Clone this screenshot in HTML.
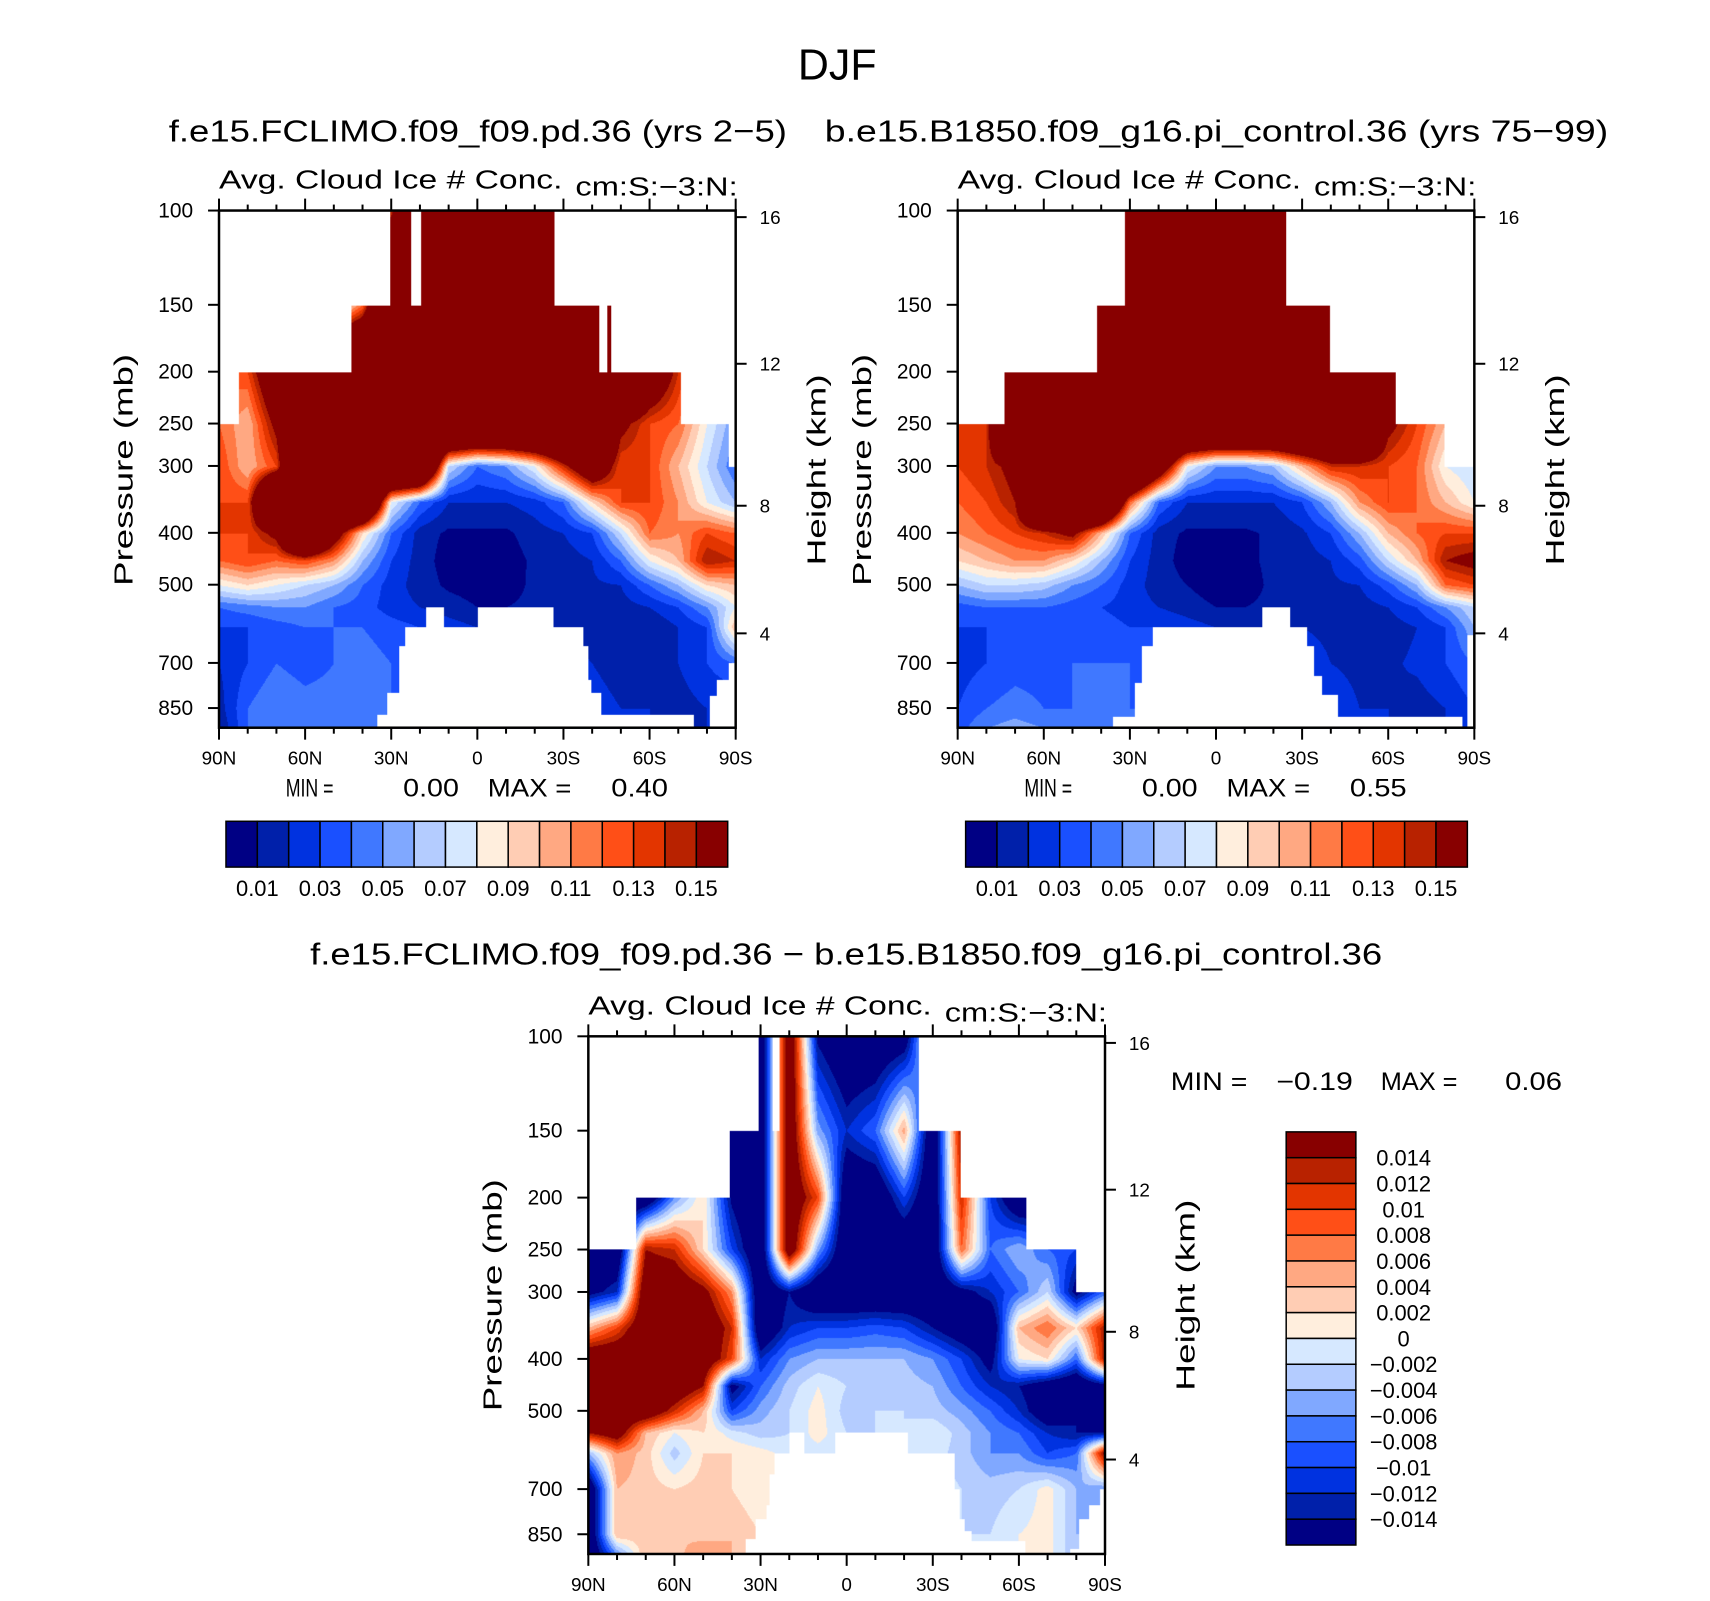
<!DOCTYPE html>
<html><head><meta charset="utf-8"><style>
html,body{margin:0;padding:0;background:#fff;}
#wrap{position:relative;width:1710px;height:1601px;overflow:hidden;background:#fff;}
#root{position:absolute;left:0;top:0;width:1710px;height:1601px;background:#fff;transform:scale(0.9955);transform-origin:0 0;}
canvas{position:absolute;}
svg{position:absolute;left:0;top:0;}
text{font-family:"Liberation Sans",sans-serif;fill:#000;}
</style></head><body>
<div id="wrap">
<div id="root">
<canvas id="c1"></canvas>
<canvas id="c2"></canvas>
<canvas id="c3"></canvas>
<svg id="ov" width="1710" height="1601"></svg>
</div></div>
<script>
// ---- data ----
const levels = [100,150,200,250,300,350,400,450,500,550,600,700,850,925];
const lats = [90,80,70,60,50,40,30,20,10,0,-10,-20,-30,-40,-50,-60,-70,-80,-90];
const latTickLabels = ["90N","60N","30N","0","30S","60S","90S"];
const pressureTicks = [100,150,200,250,300,400,500,700,850];
const heightTicks = [4,8,12,16];
const cbLabels12 = ["0.01","0.03","0.05","0.07","0.09","0.11","0.13","0.15"];
const cbLabels3 = ["0.014","0.012","0.01","0.008","0.006","0.004","0.002","0","\u22120.002","\u22120.004","\u22120.006","\u22120.008","\u22120.01","\u22120.012","\u22120.014"];
const contourLevels12 = [0.01,0.02,0.03,0.04,0.05,0.06,0.07,0.08,0.09,0.10,0.11,0.12,0.13,0.14,0.15];
const contourLevels3 = [-0.014,-0.012,-0.010,-0.008,-0.006,-0.004,-0.002,0,0.002,0.004,0.006,0.008,0.010,0.012,0.014];
const palette = ["#000084","#0020aa","#0032e0","#1a50ff","#4078ff","#80a8ff","#b4ccff","#d6e8ff","#ffeedd","#ffcdb4","#ffa882","#ff7a45","#ff4f17","#e33500","#b82200","#880000"];

const field1 = [
[.1,.1,.1,.1,.1,.1,.14,.3,.3,.3,.3,.3,.3,.3,.3,.3,.3,.3,.3],
[.1,.1,.1,.1,.06,.12,.3,.3,.3,.3,.3,.3,.3,.3,.3,.3,.3,.3,.3],
[.12,.13,.2,.3,.3,.3,.3,.3,.3,.3,.3,.3,.3,.3,.3,.2,.14,.1,.1],
[.12,.1,.16,.3,.3,.3,.3,.3,.3,.3,.3,.3,.3,.3,.16,.13,.12,.08,.05],
[.13,.1,.13,.3,.3,.3,.3,.3,.07,.04,.05,.08,.14,.2,.13,.13,.1,.07,.04],
[.13,.13,.3,.3,.3,.3,.08,.04,.02,.02,.02,.025,.04,.09,.13,.13,.11,.08,.06],
[.13,.13,.16,.3,.18,.09,.04,.015,.008,.008,.008,.015,.02,.03,.07,.12,.11,.13,.12],
[.12,.13,.12,.13,.11,.06,.03,.015,.005,.005,.005,.012,.015,.02,.04,.08,.1,.15,.14],
[.08,.09,.08,.07,.06,.04,.025,.015,.008,.005,.006,.012,.015,.018,.02,.04,.06,.09,.1],
[.04,.045,.05,.05,.04,.035,.025,.02,.015,.01,.01,.012,.015,.015,.015,.02,.03,.05,.08],
[.03,.03,.035,.04,.04,.04,.035,.03,.025,.02,.02,.02,.02,.015,.012,.01,.02,.03,.1],
[.02,.03,.04,.035,.04,.045,.04,.035,.03,.03,.03,.03,.025,.02,.015,.015,.02,.03,.04],
[.015,.04,.05,.045,.045,.045,.04,.04,.03,.03,.03,.03,.025,.025,.02,.02,.015,.02,.02],
[.01,.04,.05,.05,.05,.045,.04,.04,.03,.03,.03,.03,.025,.025,.02,.02,.015,.02,.02]];

const field2 = [
[.3,.3,.3,.3,.3,.3,.3,.3,.3,.3,.3,.3,.3,.3,.3,.3,.3,.3,.3],
[.3,.3,.3,.3,.3,.3,.3,.3,.3,.3,.3,.3,.3,.3,.3,.3,.3,.3,.3],
[.1,.12,.3,.3,.3,.3,.3,.3,.3,.3,.3,.3,.3,.3,.3,.3,.2,.12,.1],
[.13,.14,.3,.3,.3,.3,.3,.3,.3,.3,.3,.3,.3,.3,.3,.16,.13,.1,.06],
[.13,.14,.16,.3,.3,.3,.3,.2,.08,.05,.05,.06,.1,.14,.14,.13,.12,.08,.07],
[.12,.13,.15,.3,.3,.3,.12,.04,.02,.02,.02,.02,.03,.06,.11,.13,.12,.1,.08],
[.11,.12,.13,.14,.16,.1,.04,.015,.008,.008,.008,.012,.018,.03,.06,.1,.12,.13,.13],
[.09,.1,.11,.11,.09,.06,.03,.015,.005,.003,.008,.012,.015,.02,.035,.07,.1,.15,.16],
[.06,.07,.07,.065,.05,.04,.025,.015,.01,.004,.006,.012,.015,.018,.02,.035,.06,.12,.13],
[.035,.04,.04,.04,.035,.03,.025,.02,.015,.01,.01,.012,.015,.015,.015,.02,.03,.05,.07],
[.03,.03,.03,.03,.035,.035,.03,.03,.025,.02,.02,.02,.02,.018,.015,.015,.02,.03,.06],
[.025,.03,.035,.035,.04,.04,.04,.035,.03,.03,.03,.03,.025,.02,.018,.018,.022,.03,.04],
[.03,.04,.045,.04,.04,.045,.04,.04,.03,.03,.03,.03,.025,.025,.02,.02,.015,.02,.03],
[.035,.05,.055,.05,.05,.05,.04,.04,.03,.03,.03,.03,.025,.025,.02,.02,.015,.02,.03]];

// difference field, in units of 0.001
const diffMilli = [
[-20,-20,-20,-20,-20,-20,-20,20,-15,-20,-20,-18,5,5,5,5,5,5,5],
[-20,-20,-20,-20,-20,-20,-20,20,-5,-12,-8,5,-20,15,-20,-20,-20,-20,-20],
[-20,-20,-20,-6,2,-15,-20,20,10,-20,-20,-10,-20,12,-10,-20,-20,-20,-20],
[-20,-20,14,12,2,-10,-20,20,-5,-20,-20,-20,-20,8,-8,-4,-8,-10,-10],
[-16,-12,20,20,16,6,-20,-14,-20,-20,-20,-20,-20,-16,-12,-8,-2,-16,-8],
[4,10,20,20,20,12,-20,-12,-10,-10,-9,-10,-14,-18,-20,4,8,2,14],
[20,20,20,20,20,10,-12,-6,-4,-4,-4,-4,-6,-10,-16,0,2,-8,14],
[20,20,20,20,14,-16,-8,-3,0,-2,-2,-3,-4,-8,-12,-14,-18,-20,-16],
[20,20,20,12,4,-10,-5,-2,1,-3,-2,-2,-3,-5,-8,-12,-18,-14,-20],
[14,18,4,0,2,-1,-3,-2,1,-2,-2,-2,0,-3,-6,-8,-12,-14,-14],
[-4,6,3,-3,2,2,1,-1,-1,-1,-1,-1,-1,-3,-6,-6,-10,-8,16],
[-20,4,3,2,3,2,0,0,0,0,0,-1,-1,-2,-3,-2,1,-4,-6],
[-20,4,3,4,3,4,2,0,0,0,0,-1,-1,-2,-2,0,1,-4,-4],
[-20,-6,4,3,6,4,2,0,0,0,0,-1,-1,-2,-2,0,1,-4,-4]];
const milli = 0.001;

// missing-data regions [lat1, lat2, pTop, pBottom]
const mask1 = [[90,30.5,100,150],[23,19.6,100,150],[-27,-90,100,150],[90,44,150,200],[-42.5,-45.3,150,200],[-46.7,-90,150,200],[90,83,200,250],[-71,-90,200,250],[-87.5,-90,250,300],
[17.7,11.7,550,600],[-0.2,-26.4,550,600],[25.3,-36.8,600,649],[27.2,-38.5,649,750],[27.2,-39.6,750,796],[31.5,-43.3,796,874],[34.8,-75.3,874,925],[-83.4,-90,750,925],[-87.5,-90,700,750],[-81,-90,805,925]];
const mask2 = [[90,31.8,100,150],[-24.5,-90,100,150],[90,41.3,150,200],[-39.8,-90,150,200],[90,73.6,200,250],[-62.6,-90,200,250],[-79.7,-90,250,300],
[-16,-25.7,550,600],[21.9,-31.6,600,649],[25.7,-34.2,649,740],[25.7,-36.9,740,760],[28.4,-36.9,760,800],[28.4,-42.6,800,880],[36,-85.8,880,925],[-87.5,-90,620,925]];
const mask3 = [[90,30.6,100,150],[25.7,23.4,100,150],[-25.3,-90,100,150],[90,40.9,150,200],[-39.7,-90,150,200],[90,73.3,200,250],[-62.6,-90,200,250],[-80,-90,250,300],
[20,14.9,550,600],[4,-21.4,550,600],[25,-37.6,600,656],[26.8,-37.6,656,700],[26.8,-39.4,700,750],[28,-39.4,750,795],[31.6,-41.2,795,840],[31.6,-43.6,840,866],[35.2,-43.6,866,875],[35.2,-62.3,875,925],[-77.9,-90,905,925],[-81,-90,795,925],[-84.6,-90,750,925],[-88.2,-90,700,925]];

// ---- layout ----
const PTOP=100, PBOT=925;
const panels = [
 {id:"c1", L:220, T:211.5, W:519, H:519.5, field:field1, scale:1, lev:contourLevels12, mask:mask1},
 {id:"c2", L:962, T:211.5, W:519, H:519.5, field:field2, scale:1, lev:contourLevels12, mask:mask2},
 {id:"c3", L:591, T:1041, W:519, H:520, field:diffMilli, scale:milli, lev:contourLevels3, mask:mask3}
];
function xOfLat(pn,lat){return pn.L + (90-lat)/180*pn.W;}
function yOfP(pn,p){return pn.T + Math.log(p/PTOP)/Math.log(PBOT/PTOP)*pn.H;}
function pOfZ(z){
  if(z<=11) return 1013.25*Math.pow(1-6.5*z/288.15,5.2559);
  return 226.32*Math.exp(-(z-11)*1000*9.80665/(287.05*216.65));
}
function hex(c){return [parseInt(c.slice(1,3),16),parseInt(c.slice(3,5),16),parseInt(c.slice(5,7),16)];}
const palRGB = palette.map(hex);
const lnLev = levels.map(p=>Math.log(p));

function drawPanel(pn){
  const cv=document.getElementById(pn.id);
  const W=Math.round(pn.W), H=Math.round(pn.H);
  cv.width=W; cv.height=H; cv.style.left=pn.L+"px"; cv.style.top=pn.T+"px";
  const ctx=cv.getContext("2d"); const img=ctx.createImageData(W,H); const d=img.data;
  for(let y=0;y<H;y++){
    const p=PTOP*Math.exp((y+0.5)/pn.H*Math.log(PBOT/PTOP)); const lp=Math.log(p);
    let r=0; while(r<levels.length-2 && lnLev[r+1]<lp) r++;
    let fy=(lp-lnLev[r])/(lnLev[r+1]-lnLev[r]); fy=Math.max(0,Math.min(1,fy));
    for(let x=0;x<W;x++){
      const lat=90-(x+0.5)/pn.W*180;
      let k=0;
      for(const m of pn.mask){const a=Math.min(m[0],m[1]),b=Math.max(m[0],m[1]); if(lat>=a&&lat<=b&&p>=m[2]&&p<=m[3]){k=-1;break;}}
      const o=(y*W+x)*4;
      if(k<0){d[o]=d[o+1]=d[o+2]=255;d[o+3]=255;continue;}
      const fi=(90-lat)/10; let c=Math.min(17,Math.floor(fi)); const fx=fi-c;
      const f=pn.field;
      const v=((f[r][c]*(1-fx)+f[r][c+1]*fx)*(1-fy)+(f[r+1][c]*(1-fx)+f[r+1][c+1]*fx)*fy)*pn.scale;
      let idx=0; for(const b of pn.lev){ if(v>=b-1e-12) idx++; }
      const col=palRGB[idx]; d[o]=col[0];d[o+1]=col[1];d[o+2]=col[2];d[o+3]=255;
    }
  }
  ctx.putImageData(img,0,0);
}
panels.forEach(drawPanel);

// ---- overlay ----
const NS="http://www.w3.org/2000/svg"; const ov=document.getElementById("ov");
function el(tag,attrs,parent){const e=document.createElementNS(NS,tag);for(const k in attrs)e.setAttribute(k,attrs[k]);(parent||ov).appendChild(e);return e;}
function txt(s,x,y,size,anchor,len,parent){const t=el("text",{x:x,y:y,"font-size":size,"text-anchor":anchor||"start"},parent);if(len){t.setAttribute("textLength",len);t.setAttribute("lengthAdjust","spacingAndGlyphs");}t.textContent=s;return t;}

let t;
t=txt("DJF",841,80,44,"middle",79);  
t=txt("f.e15.FCLIMO.f09_f09.pd.36 (yrs 2\u22125)",480,142,31,"middle",621);  
t=txt("b.e15.B1850.f09_g16.pi_control.36 (yrs 75\u221299)",1222,142,31,"middle",787);  
t=txt("f.e15.FCLIMO.f09_f09.pd.36 \u2212 b.e15.B1850.f09_g16.pi_control.36",850,969,31,"middle",1077);  

panels.forEach((pn,pi)=>{
  const g=el("g",{});
  
  
  const R=pn.L+pn.W, B=pn.T+pn.H;
  el("rect",{x:pn.L,y:pn.T,width:pn.W,height:pn.H,fill:"none",stroke:"#000","stroke-width":2.5},g);
  for(let lat=90;lat>=-90;lat-=10){
    const x=xOfLat(pn,lat); const major=(lat%30===0); const len=major?12:6;
    el("line",{x1:x,y1:B,x2:x,y2:B+len,stroke:"#000","stroke-width":2},g);
    el("line",{x1:x,y1:pn.T,x2:x,y2:pn.T-len,stroke:"#000","stroke-width":2},g);
  }
  latTickLabels.forEach((s,i)=>{const lab=txt(s,xOfLat(pn,90-30*i),B+37,19,"middle",null,g);
    
    });
  pressureTicks.forEach(p=>{const y=yOfP(pn,p);
    el("line",{x1:pn.L,y1:y,x2:pn.L-11,y2:y,stroke:"#000","stroke-width":2},g);
    const lab=txt(String(p),pn.L-26,y+7,21,"end",null,g);
    
    });
  heightTicks.forEach(z=>{const y=yOfP(pn,pOfZ(z));
    el("line",{x1:R,y1:y,x2:R+11,y2:y,stroke:"#000","stroke-width":2},g);
    const lab=txt(String(z),R+24,y+7,19,"start",null,g);
    
    });
  const tp=pi===2?1301:472;
  let a=txt("Pressure (mb)",0,0,26,"middle",233,g); a.setAttribute("transform",`translate(${pn.L-87},${tp}) rotate(-90)`);
  
  
  a=txt("Height (km)",0,0,26,"middle",192,g); a.setAttribute("transform",`translate(${R+90},${tp}) rotate(-90)`);
  
  
  a=txt("Avg. Cloud Ice # Conc.",pn.L,pn.T-22,26,"start",345,g);
  
  
  a=txt("cm:S:\u22123:N:",R+2,pn.T-15,26,"end",163,g);
  
  
});

[[287,"0.00","0.40"],[1029,"0.00","0.55"]].forEach((m,i)=>{
  const g=el("g",{});  
  txt("MIN =",m[0],800,25,"start",48,g); txt(m[1],m[0]+118,800,25,"start",56,g);
  txt("MAX =",m[0]+203,800,25,"start",84,g); txt(m[2],m[0]+327,800,25,"start",57,g);
});
{const g=el("g",{});  
 txt("MIN =",1176,1095,25,"start",77,g); txt("\u22120.19",1282,1095,25,"start",77,g);
 txt("MAX =",1387,1095,25,"start",77,g); txt("0.06",1512,1095,25,"start",57,g);}

[227,970].forEach((x0,ci)=>{
  const g=el("g",{});  
  const w=504/16;
  palette.forEach((c,i)=>el("rect",{x:x0+i*w,y:825,width:w,height:46,fill:c,stroke:"#000","stroke-width":1.5},g));
  cbLabels12.forEach((s,i)=>{const lab=txt(s,x0+(2*i+1)*w,900,22,"middle",null,g);
     });
});
{const g=el("g",{});  
 const h=415/16;
 palette.slice().reverse().forEach((c,i)=>el("rect",{x:1292,y:1137+i*h,width:70,height:h,fill:c,stroke:"#000","stroke-width":1.5},g));
 cbLabels3.forEach((s,i)=>{const lab=txt(s,1410,1137+(i+1)*h+8,22,"middle",null,g);
    });
}
</script>
</body></html>
